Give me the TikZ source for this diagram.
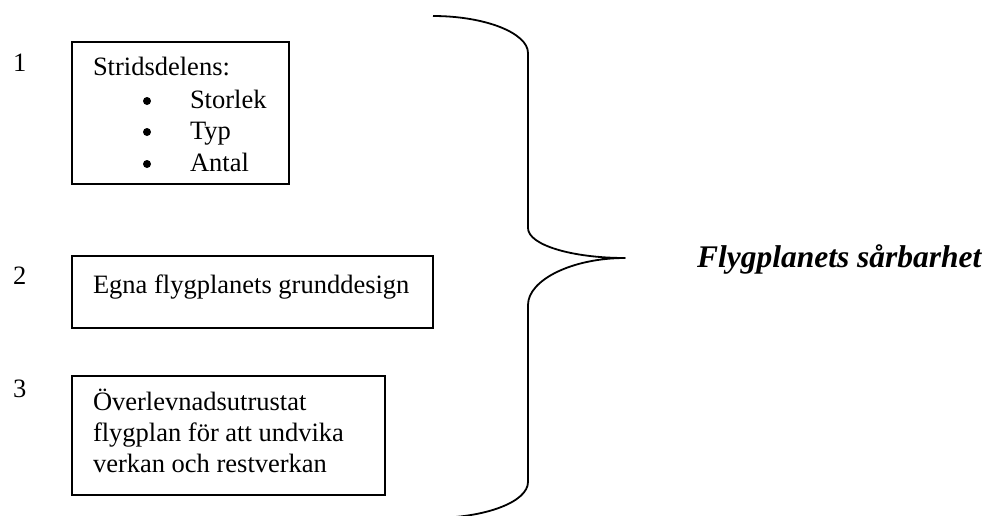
\documentclass[tikz,border=0pt]{standalone}
\usepackage{fontspec}
\setmainfont{Liberation Serif}
\begin{document}
\begin{tikzpicture}[x=1pt,y=-1pt,
  box/.style={draw=black,line width=1.8pt,anchor=north west,inner sep=0pt,outer sep=0pt},
  txt/.style={anchor=base west,inner sep=0pt,outer sep=0pt,font=\fontsize{26.5}{31}\selectfont},
  bul/.style={circle,fill=black,inner sep=0pt,minimum size=8pt},
  brace/.style={line width=1.8pt,line join=round}]
\clip (0,0) rectangle (989,515);
\fill[white] (0,0) rectangle (989,515);
% boxes
\node[box,minimum width=217,minimum height=142] (b1) at (72,42) {};
\node[box,minimum width=361,minimum height=72] (b2) at (72,256) {};
\node[box,minimum width=313,minimum height=119] (b3) at (72,376) {};
% numbers
\node[txt] (n1) at (13,71) {1};
\node[txt] (n2) at (13,284) {2};
\node[txt] (n3) at (13,397) {3};
% box 1 text
\node[txt] (t1) at (93,75) {Stridsdelens:};
\node[bul] (d1) at (147,101) {};
\node[bul] (d2) at (147,132) {};
\node[bul] (d3) at (147,164) {};
\node[txt] (t1a) at (190,108) {Storlek};
\node[txt] (t1b) at (190,139) {Typ};
\node[txt] (t1c) at (190,171) {Antal};
% box 2 text
\node[txt] (t2) at (93,293) {Egna flygplanets grunddesign};
% box 3 text
\node[txt] (t3a) at (93,410) {Överlevnadsutrustat};
\node[txt] (t3b) at (93,441) {flygplan för att undvika};
\node[txt] (t3c) at (93,472) {verkan och restverkan};
% result
\node[txt,font=\fontsize{31.5}{36}\selectfont\bfseries\itshape] (res) at (697,267) {Flygplanets sårbarhet};
% brace
\coordinate (btop) at (433,16);
\coordinate (tip) at (625,258);
\coordinate (bbot) at (433,518);
\draw[brace] (btop) .. controls (485,16) and (528,33) .. (528,53)
  -- (528,228) .. controls (528,245) and (572,258) .. (tip)
  .. controls (572,258) and (528,280) .. (528,305)
  -- (528,482) .. controls (528,502) and (485,518) .. (bbot);
\end{tikzpicture}
\end{document}
